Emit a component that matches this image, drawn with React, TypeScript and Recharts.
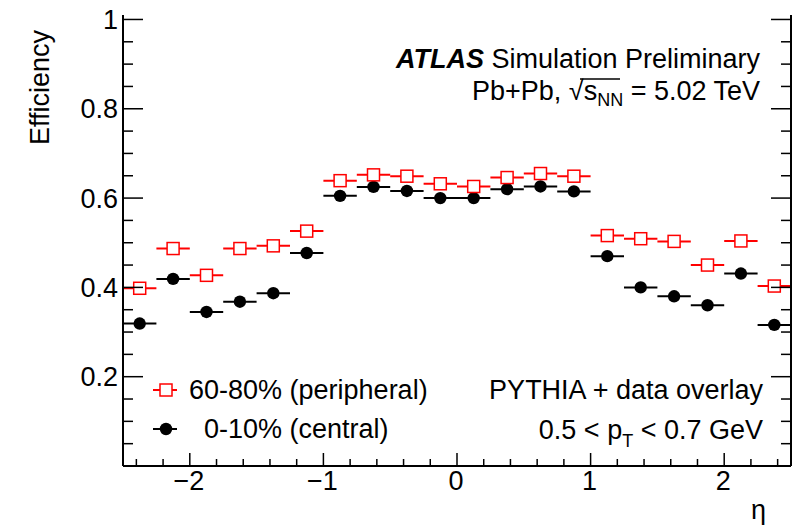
import React from 'react';
import { ComposedChart, Scatter, XAxis, YAxis, ErrorBar } from 'recharts';

const FONT = '"Liberation Sans", Arial, Helvetica, sans-serif';
const FS = 27;

// eta bin centres (bins of width 0.25 from -2.5 to 2.5)
const etaCenters = [
  -2.375, -2.125, -1.875, -1.625, -1.375, -1.125, -0.875, -0.625, -0.375, -0.125,
  0.125, 0.375, 0.625, 0.875, 1.125, 1.375, 1.625, 1.875, 2.125, 2.375,
];
const binHalfWidth = 0.125;

// 60-80% (peripheral)
const peripheralEff = [
  0.398, 0.487, 0.427, 0.487, 0.493, 0.526, 0.639, 0.652, 0.649, 0.632,
  0.626, 0.646, 0.655, 0.649, 0.516, 0.509, 0.503, 0.450, 0.504, 0.403,
];
// 0-10% (central)
const centralEff = [
  0.319, 0.419, 0.345, 0.368, 0.387, 0.477, 0.605, 0.625, 0.616, 0.600,
  0.600, 0.620, 0.626, 0.615, 0.470, 0.400, 0.380, 0.360, 0.431, 0.316,
];

const xDomain = [-2.5, 2.5];
const yDomain = [0, 1.01];
const xMajorTicks = [-2, -1, 0, 1, 2];
const xTickLabels = ['\u22122', '\u22121', '0', '1', '2'];
const xMinorTicks = [
  -2.4, -2.2, -1.8, -1.6, -1.4, -1.2, -0.8, -0.6, -0.4, -0.2,
  0.2, 0.4, 0.6, 0.8, 1.2, 1.4, 1.6, 1.8, 2.2, 2.4,
];
const yMajorTicks = [0.2, 0.4, 0.6, 0.8, 1.0];
const yTickLabels = ['0.2', '0.4', '0.6', '0.8', '1'];
const yMinorTicks = [
  0.05, 0.1, 0.15, 0.25, 0.3, 0.35, 0.45, 0.5, 0.55, 0.65, 0.7, 0.75, 0.85, 0.9, 0.95,
];

const xTicks = [...xMinorTicks, ...xMajorTicks].sort((a, b) => a - b);
const yTicks = [...yMinorTicks, ...yMajorTicks].sort((a, b) => a - b);

const peripheralData = etaCenters.map((eta, i) => ({ eta, eff: peripheralEff[i], xErr: binHalfWidth }));
const centralData = etaCenters.map((eta, i) => ({ eta, eff: centralEff[i], xErr: binHalfWidth }));

const findIdx = (arr: number[], v: number) => arr.findIndex((t) => Math.abs(t - v) < 1e-6);

const makeXTick = (side: 'bottom' | 'top') => (props: any) => {
  const { x, y, payload } = props;
  const mi = findIdx(xMajorTicks, payload.value);
  const len = mi >= 0 ? 13 : 7;
  const dir = side === 'bottom' ? -1 : 1;
  return (
    <g>
      <line x1={x} x2={x} y1={y} y2={y + dir * len} stroke="#000" strokeWidth={1.5} />
      {side === 'bottom' && mi >= 0 && (
        <text x={x - 1} y={y + 24} textAnchor="middle" fontSize={FS} fill="#000" fontFamily={FONT}>
          {xTickLabels[mi]}
        </text>
      )}
    </g>
  );
};

const makeYTick = (side: 'left' | 'right') => (props: any) => {
  const { x, y, payload } = props;
  const mi = findIdx(yMajorTicks, payload.value);
  const len = mi >= 0 ? 20 : 10;
  const dir = side === 'left' ? 1 : -1;
  return (
    <g>
      <line x1={x} x2={x + dir * len} y1={y} y2={y} stroke="#000" strokeWidth={1.5} />
      {side === 'left' && mi >= 0 && (
        <text x={x - 5} y={y + 9.5} textAnchor="end" fontSize={FS} fill="#000" fontFamily={FONT}>
          {yTickLabels[mi]}
        </text>
      )}
    </g>
  );
};

const SquareMarker = (p: any) => (
  <rect x={p.cx - 6} y={p.cy - 6} width={12} height={12} fill="#fff" stroke="#ff0000" strokeWidth={1.5} />
);
const CircleMarker = (p: any) => <circle cx={p.cx} cy={p.cy} r={6.2} fill="#000" />;

const axisLine = { stroke: '#000', strokeWidth: 2 };

export default function App() {
  return (
    <div style={{ position: 'absolute', left: 0, top: 0, width: 809, height: 525, background: '#fff' }}>
      <ComposedChart width={809} height={525} margin={{ top: 15, right: 0, bottom: 0, left: 0 }}>
        <XAxis
          xAxisId="b"
          type="number"
          dataKey="eta"
          domain={xDomain}
          ticks={xTicks}
          interval={0}
          allowDataOverflow
          height={59}
          tickSize={0}
          tickMargin={0}
          tickLine={false}
          axisLine={axisLine}
          tick={makeXTick('bottom')}
        />
        <XAxis
          xAxisId="t"
          orientation="top"
          type="number"
          dataKey="eta"
          domain={xDomain}
          ticks={xTicks}
          interval={0}
          allowDataOverflow
          height={0}
          tickSize={0}
          tickMargin={0}
          tickLine={false}
          axisLine={axisLine}
          tick={makeXTick('top')}
        />
        <YAxis
          yAxisId="l"
          type="number"
          dataKey="eff"
          domain={yDomain}
          ticks={yTicks}
          interval={0}
          allowDataOverflow
          width={123}
          tickSize={0}
          tickMargin={0}
          tickLine={false}
          axisLine={axisLine}
          tick={makeYTick('left')}
        />
        <YAxis
          yAxisId="r"
          orientation="right"
          type="number"
          dataKey="eff"
          domain={yDomain}
          ticks={yTicks}
          interval={0}
          allowDataOverflow
          width={18}
          tickSize={0}
          tickMargin={0}
          tickLine={false}
          axisLine={axisLine}
          tick={makeYTick('right')}
        />
        <Scatter
          name="0-10% (central)"
          xAxisId="b"
          yAxisId="l"
          data={centralData}
          dataKey="eff"
          shape={CircleMarker}
          isAnimationActive={false}
        >
          <ErrorBar dataKey="xErr" direction="x" width={0} stroke="#000" strokeWidth={2} isAnimationActive={false} />
        </Scatter>
        <Scatter
          name="60-80% (peripheral)"
          xAxisId="b"
          yAxisId="l"
          data={peripheralData}
          dataKey="eff"
          shape={SquareMarker}
          isAnimationActive={false}
        >
          <ErrorBar dataKey="xErr" direction="x" width={0} stroke="#ff0000" strokeWidth={2} isAnimationActive={false} />
        </Scatter>
      </ComposedChart>
      <svg
        width={809}
        height={525}
        style={{ position: 'absolute', left: 0, top: 0, pointerEvents: 'none' }}
        fontFamily={FONT}
        fill="#000"
      >
        <text x={49} y={30} transform="rotate(-90 49 30)" textAnchor="end" fontSize={FS}>
          Efficiency
        </text>
        <text x={766} y={519} textAnchor="end" fontSize={FS}>
          η
        </text>
        <text x={760} y={68} textAnchor="end" fontSize={FS}>
          <tspan fontWeight="bold" fontStyle="italic">ATLAS</tspan>
          <tspan> Simulation Preliminary</tspan>
        </text>
        <text x={760} y={100} textAnchor="end" fontSize={FS}>
          <tspan>Pb+Pb, √</tspan>
          <tspan>s</tspan>
          <tspan fontSize={18} dy={6}>NN</tspan>
          <tspan dy={-6}> = 5.02 TeV</tspan>
        </text>
        <line x1={580} x2={620} y1={79} y2={79} stroke="#000" strokeWidth={1.5} />
        <text x={763} y={399} textAnchor="end" fontSize={FS}>
          PYTHIA + data overlay
        </text>
        <text x={763} y={439} textAnchor="end" fontSize={FS}>
          <tspan>0.5 &lt; p</tspan>
          <tspan fontSize={18} dy={8}>T</tspan>
          <tspan dy={-8}> &lt; 0.7 GeV</tspan>
        </text>
        {/* legend */}
        <line x1={153} x2={177} y1={390} y2={390} stroke="#ff0000" strokeWidth={2} />
        <rect x={160} y={384} width={12} height={12} fill="#fff" stroke="#ff0000" strokeWidth={1.5} />
        <text x={189} y={399} fontSize={FS}>60-80% (peripheral)</text>
        <line x1={153} x2={177} y1={429} y2={429} stroke="#000" strokeWidth={2} />
        <circle cx={166} cy={429} r={6.2} fill="#000" />
        <text x={204} y={438} fontSize={FS}>0-10% (central)</text>
      </svg>
    </div>
  );
}
